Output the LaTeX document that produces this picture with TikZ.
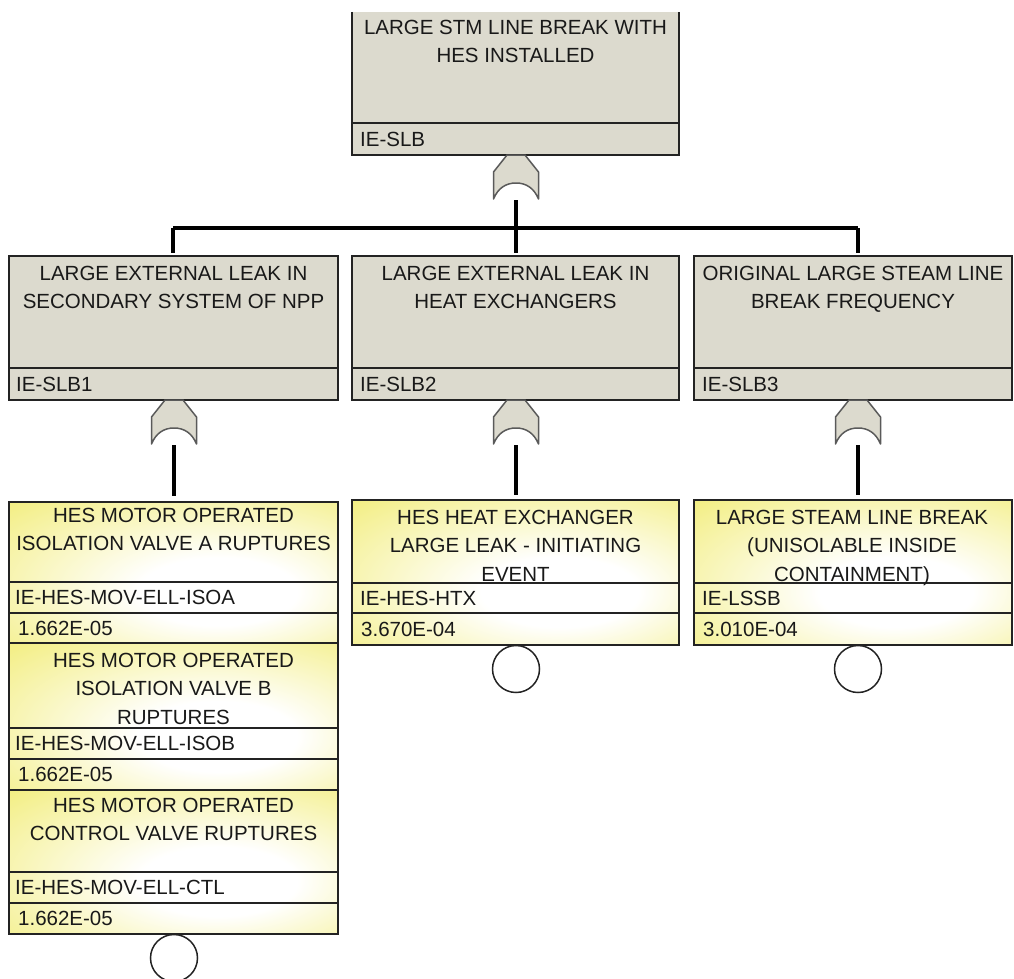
\documentclass[tikz,border=0pt]{standalone}
\usepackage{fontspec}
\setmainfont{Liberation Sans}
\definecolor{gfill}{RGB}{220,218,206}
\definecolor{yfill}{RGB}{240,234,100}
\colorlet{ylight}{yfill!45!white}
\definecolor{bord}{RGB}{35,35,35}
\definecolor{gateline}{RGB}{90,90,90}
\definecolor{txt}{RGB}{25,25,25}
\pgfdeclareradialshading{yglow}{\pgfpoint{8bp}{-8bp}}{color(0bp)=(white); color(12bp)=(white); color(28bp)=(ylight); color(48bp)=(yfill); color(80bp)=(yfill)}
\begin{document}
\begin{tikzpicture}[x=1pt,y=-1pt,
  boxline/.style={draw=bord,line width=2pt},
  divline/.style={draw=bord,line width=1.5pt},
  gbox/.style={boxline,fill=gfill,anchor=north west,inner sep=0pt,outer sep=0pt},
  ybox/.style={boxline,shading=yglow,anchor=north west,inner sep=0pt,outer sep=0pt},
  conn/.style={line width=4pt,black},
  gatesh/.style={draw=gateline,line width=1.5pt,fill=gfill,line join=round},
  ttl/.style={font=\fontsize{20.5}{28.5}\selectfont,align=center,anchor=north,inner sep=0pt,text=txt},
  lab/.style={font=\fontsize{20.5}{28}\selectfont,anchor=west,inner sep=0pt,text height=14.7pt,text depth=0pt,text=txt},
  basic/.style={circle,draw=bord,line width=1.5pt,fill=white,minimum size=47pt,inner sep=0pt},
  orgate/.pic={
    \path[gatesh] (-22.5,44) -- (-22.5,17) .. controls (-16,8) .. (-9,0) -- (9,0) .. controls (16,8) .. (22.5,17) -- (22.5,44)
      .. controls (18,33) and (10,28) .. (0,28) .. controls (-10,28) and (-18,33) .. (-22.5,44) -- cycle;
    \coordinate (-out) at (0,45);
  }
]
\useasboundingbox (0,0) rectangle (1014,979);
\clip (0,0) rectangle (1014,979);

% ---------- top event ----------
\fill[gfill] (352,12) rectangle (679,155);
\draw[boxline] (352,12) -- (352,155) -- (679,155) -- (679,12);
\coordinate (e0) at (515.5,12);
\draw[divline] (352,123) -- (679,123);
\node[ttl] (e0t) at (515.5,19.7) {LARGE STM LINE BREAK WITH\\HES INSTALLED};
\node[lab] (e0i) at (360,139) {IE-SLB};
\pic (g0) at (516,155) {orgate};

% ---------- second row (gray) ----------
\node[gbox,minimum width=329pt,minimum height=144pt] (e1) at (9,256) {};
\node[gbox,minimum width=327pt,minimum height=144pt] (e2) at (352,256) {};
\node[gbox,minimum width=318pt,minimum height=144pt] (e3) at (694,256) {};
\draw[divline] (9,368) -- (338,368);
\draw[divline] (352,368) -- (679,368);
\draw[divline] (694,368) -- (1012,368);
\node[ttl] (e1t) at (173.5,265.7) {LARGE EXTERNAL LEAK IN\\SECONDARY SYSTEM OF NPP};
\node[ttl] (e2t) at (515.5,265.7) {LARGE EXTERNAL LEAK IN\\HEAT EXCHANGERS};
\node[ttl] (e3t) at (853,265.7) {ORIGINAL LARGE STEAM LINE\\BREAK FREQUENCY};
\node[lab] (e1i) at (16,384) {IE-SLB1};
\node[lab] (e2i) at (360,384) {IE-SLB2};
\node[lab] (e3i) at (702,384) {IE-SLB3};
\pic (g1) at (174,400) {orgate};
\pic (g2) at (516,400) {orgate};
\pic (g3) at (858,400) {orgate};

% ---------- connectors from top gate ----------
\coordinate (bar) at (516,228);
\coordinate (j1) at (173,228);
\coordinate (j3) at (858,228);
\draw[conn] (g0-out) -- (bar);
\draw[conn] (j1) -- (j3);
\draw[conn] (j1) -- ([yshift=3pt]e1.north -| j1);
\draw[conn] (bar) -- ([yshift=3pt]e2.north -| bar);
\draw[conn] (j3) -- ([yshift=3pt]e3.north -| j3);

% ---------- basic events, left column ----------
\node[ybox,minimum width=329pt,minimum height=141pt] (ba) at (9,502) {};
\draw[divline] (9,582) -- (338,582);
\draw[divline] (9,613) -- (338,613);
\node[ttl] (bat) at (173.5,507.7) {HES MOTOR OPERATED\\ISOLATION VALVE A RUPTURES};
\node[lab] (bai) at (15,597.5) {IE-HES-MOV-ELL-ISOA};
\node[lab] (bav) at (18,628) {1.662E-05};

\node[ybox,minimum width=329pt,minimum height=147pt] (bb) at (9,643) {};
\draw[divline] (9,728) -- (338,728);
\draw[divline] (9,759) -- (338,759);
\node[ttl] (bbt) at (173.5,652.7) {HES MOTOR OPERATED\\ISOLATION VALVE B\\RUPTURES};
\node[lab] (bbi) at (15,743.5) {IE-HES-MOV-ELL-ISOB};
\node[lab] (bbv) at (18,774.5) {1.662E-05};

\node[ybox,minimum width=329pt,minimum height=144pt] (bc) at (9,790) {};
\draw[divline] (9,872) -- (338,872);
\draw[divline] (9,903) -- (338,903);
\node[ttl] (bct) at (173.5,797.7) {HES MOTOR OPERATED\\CONTROL VALVE RUPTURES};
\node[lab] (bci) at (15,887.5) {IE-HES-MOV-ELL-CTL};
\node[lab] (bcv) at (18,918.5) {1.662E-05};
\node[basic] (cc) at (174,958) {};

% ---------- basic event, middle ----------
\node[ybox,minimum width=327pt,minimum height=145pt] (bd) at (352,500) {};
\draw[divline] (352,583) -- (679,583);
\draw[divline] (352,613) -- (679,613);
\node[ttl] (bdt) at (515.5,509.7) {HES HEAT EXCHANGER\\LARGE LEAK - INITIATING\\EVENT};
\node[lab] (bdi) at (360,598) {IE-HES-HTX};
\node[lab] (bdv) at (361,629) {3.670E-04};
\node[basic] (cd) at (516,669) {};

% ---------- basic event, right ----------
\node[ybox,minimum width=318pt,minimum height=145pt] (bf) at (694,500) {};
\draw[divline] (694,583) -- (1012,583);
\draw[divline] (694,613) -- (1012,613);
\node[ttl] (bft) at (852,509.7) {LARGE STEAM LINE BREAK\\(UNISOLABLE INSIDE\\CONTAINMENT)};
\node[lab] (bfi) at (702,598) {IE-LSSB};
\node[lab] (bfv) at (703,629) {3.010E-04};
\node[basic] (cf) at (858,669) {};

% ---------- connectors gate -> basic events ----------
\draw[conn] (g1-out) -- ([yshift=6pt]ba.north -| g1-out);
\draw[conn] (g2-out) -- ([yshift=5pt]bd.north -| g2-out);
\draw[conn] (g3-out) -- ([yshift=5pt]bf.north -| g3-out);
\end{tikzpicture}
\end{document}
